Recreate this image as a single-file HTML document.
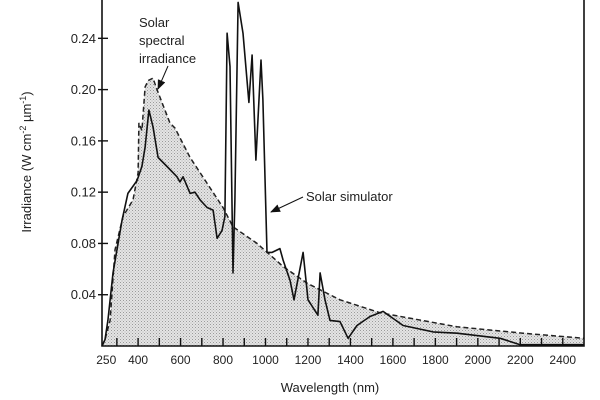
<!DOCTYPE html>
<html><head><meta charset="utf-8"><style>
html,body{margin:0;padding:0;background:#fff}
svg{display:block;font-family:"Liberation Sans",Arial,sans-serif}
</style></head><body>
<svg id="chart" width="600" height="400" viewBox="0 0 600 400">
<defs>
<pattern id="stip" width="3" height="3" patternUnits="userSpaceOnUse">
<rect width="3" height="3" fill="#e4e4e4"/><rect width="1" height="1" fill="#9a9a9a"/><rect x="1.5" y="1.5" width="1" height="1" fill="#b0b0b0"/>
</pattern>
<marker id="ah" markerWidth="8" markerHeight="8" refX="7" refY="4" orient="auto"><path d="M0,0 L8,4 L0,8 z" fill="#111"/></marker>
</defs>
<g id="plot"></g>
</svg>
<script>
const solarWl=[230,244,268,291,329,376,400,404,418,433,447,470,489,550,574,645,800,847,960,1083,1196,1351,1539,1902,2213,2500];
const solarIrr=[0,0.005,0.020,0.075,0.101,0.114,0.135,0.174,0.168,0.202,0.207,0.209,0.200,0.174,0.170,0.147,0.108,0.093,0.080,0.062,0.049,0.036,0.026,0.015,0.010,0.006];
const simWl=[230,244,258,282,324,352,395,418,433,451,470,494,536,583,597,612,645,668,692,725,753,772,795,809,819,833,847,856,871,894,922,937,955,979,988,1007,1031,1068,1083,1116,1134,1177,1200,1247,1257,1280,1304,1351,1389,1431,1492,1554,1648,1789,1902,2105,2199,2500];
const simIrr=[0,0.005,0.020,0.057,0.098,0.119,0.129,0.140,0.155,0.184,0.171,0.147,0.140,0.132,0.128,0.132,0.119,0.120,0.114,0.108,0.106,0.084,0.090,0.101,0.244,0.218,0.057,0.114,0.268,0.244,0.190,0.227,0.145,0.223,0.192,0.073,0.073,0.076,0.067,0.051,0.036,0.073,0.036,0.024,0.057,0.036,0.020,0.019,0.006,0.016,0.023,0.027,0.016,0.011,0.010,0.006,0.001,0.001];
const yTicks=[0.04,0.08,0.12,0.16,0.20,0.24];
const yTickLabels=["0.04","0.08","0.12","0.16","0.20","0.24"];
const xLabelVals=[250,400,600,800,1000,1200,1400,1600,1800,2000,2200,2400];
const xLabelText=["250","400","600","800","1000","1200","1400","1600","1800","2000","2200","2400"];

const X0=102,X1=584,Y0=346,DX0=230,DX1=2500;
const xs=v=>X0+(v-DX0)*(X1-X0)/(DX1-DX0);
const ys=v=>Y0-v*1282;
const NS='http://www.w3.org/2000/svg';
const g=document.getElementById('plot');
function mk(t,a){const e=document.createElementNS(NS,t);for(const k in a)e.setAttribute(k,a[k]);g.appendChild(e);return e;}
function pts(w,v){return w.map((x,i)=>xs(x).toFixed(1)+','+ys(v[i]).toFixed(1)).join(' ');}

let e=mk('polygon',{points:pts(solarWl,solarIrr)+' '+xs(DX1)+','+Y0+' '+xs(DX0)+','+Y0,fill:'url(#stip)',stroke:'none'});


e=mk('polyline',{points:pts(solarWl,solarIrr),fill:'none',stroke:'#222','stroke-width':1.5,'stroke-dasharray':'5,3'});


e=mk('polyline',{points:pts(simWl,simIrr),fill:'none',stroke:'#111','stroke-width':1.6,'stroke-linejoin':'round'});



// axes frame
e=mk('path',{d:`M${X0},0 V${Y0} H${X1} V0`,fill:'none',stroke:'#111','stroke-width':1.6});


for(let v=300;v<=2400;v+=100){
  e=mk('line',{x1:xs(v),x2:xs(v),y1:Y0,y2:Y0-8,stroke:'#111','stroke-width':1.4});
  
  
}
xLabelVals.forEach((v,i)=>{
  const t=mk('text',{x:xs(v),y:364,'font-size':12,'text-anchor':'middle',fill:'#222'});t.textContent=xLabelText[i];
  
  
});
yTicks.forEach((v,i)=>{
  const l=mk('line',{x1:X0-4,x2:X0+6,y1:ys(v),y2:ys(v),stroke:'#111','stroke-width':1.4});
  
  
  const t=mk('text',{x:96,y:ys(v)+4.5,'font-size':13,'text-anchor':'end',fill:'#222'});t.textContent=yTickLabels[i];
  
  
});
</script>
<svg width="600" height="400" style="position:absolute;left:0;top:0">
<text x="330" y="392" font-size="13" text-anchor="middle" fill="#222" font-family="Liberation Sans,sans-serif">Wavelength (nm)</text>
<text transform="translate(31,162) rotate(-90)" font-size="13" text-anchor="middle" fill="#222" font-family="Liberation Sans,sans-serif">Irradiance (W cm<tspan dy="-5" font-size="9">-2</tspan><tspan dy="5"> µm</tspan><tspan dy="-5" font-size="9">-1</tspan><tspan dy="5">)</tspan></text>
<g font-size="13" fill="#222" font-family="Liberation Sans,sans-serif">
<text x="139" y="27">Solar</text><text x="139" y="45">spectral</text><text x="139" y="63">irradiance</text></g>
<line x1="168" y1="66" x2="158" y2="89" stroke="#111" stroke-width="1" marker-end="url(#ah2)"/>
<text x="306" y="201" font-size="13" fill="#222" font-family="Liberation Sans,sans-serif">Solar simulator</text>
<line x1="303" y1="197" x2="271" y2="212" stroke="#111" stroke-width="1" marker-end="url(#ah2)"/>
<defs><marker id="ah2" markerWidth="10" markerHeight="8" refX="9" refY="4" orient="auto" markerUnits="userSpaceOnUse"><path d="M0,0 L10,4 L0,8 z" fill="#111"/></marker></defs>
</svg>
<style>body{position:relative;width:600px;height:400px}</style>
</body></html>
